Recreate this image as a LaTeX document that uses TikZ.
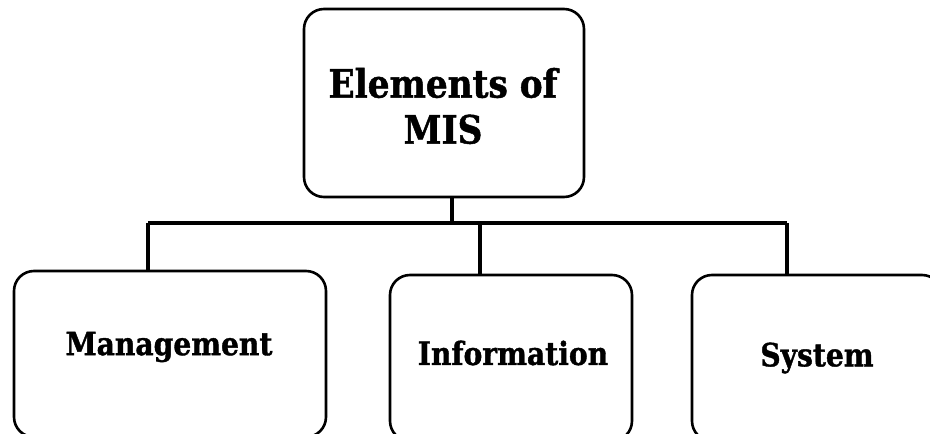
\documentclass[tikz,border=0pt]{standalone}
\usepackage{fontspec}
\newfontfamily\boxfont{DejaVu Serif}[FakeStretch=0.88,BoldFeatures={FakeStretch=0.88,FakeBold=1.2}]
\begin{document}
\begin{tikzpicture}[x=1pt,y=-1pt,
  frame/.style={draw=black,line width=2.6pt,rounded corners=20pt,fill=white},
  title/.style={font=\boxfont\bfseries\fontsize{39}{46}\selectfont,align=center,inner sep=0pt},
  label/.style={font=\boxfont\bfseries\fontsize{32}{36}\selectfont,inner sep=0pt},
  wire/.style={draw=black,line width=3.6pt}]
\useasboundingbox (0,0) rectangle (930,434);
\clip (0,0) rectangle (930,434);
% root box
\node[frame,minimum width=280pt,minimum height=188pt] (root) at (444,103) {};
\node[title] (roottext) at (443,106) {Elements of\\MIS};
% three element boxes
\node[frame,minimum width=312pt,minimum height=166pt] (mgmt) at (170,354) {};
\node[frame,minimum width=242pt,minimum height=166pt] (info) at (511,358) {};
\node[frame,minimum width=250pt,minimum height=166pt] (sys) at (817,358) {};
\node[label] (mgmttext) at (169,347) {Management};
\node[label] (infotext) at (513,353) {Information};
\node[label] (systext) at (817,358) {System};
% tree connectors
\coordinate (hub) at (452,223);
\coordinate (busL) at (148,223);
\coordinate (busM) at (480,223);
\coordinate (busR) at (787,223);
\draw[wire] (root.south -| hub) -- (hub);
\draw[wire] (busL) -- (busR);
\draw[wire] (busL) -- (busL |- mgmt.north);
\draw[wire] (busM) -- (busM |- info.north);
\draw[wire] (busR) -- (busR |- sys.north);
\end{tikzpicture}
\end{document}
